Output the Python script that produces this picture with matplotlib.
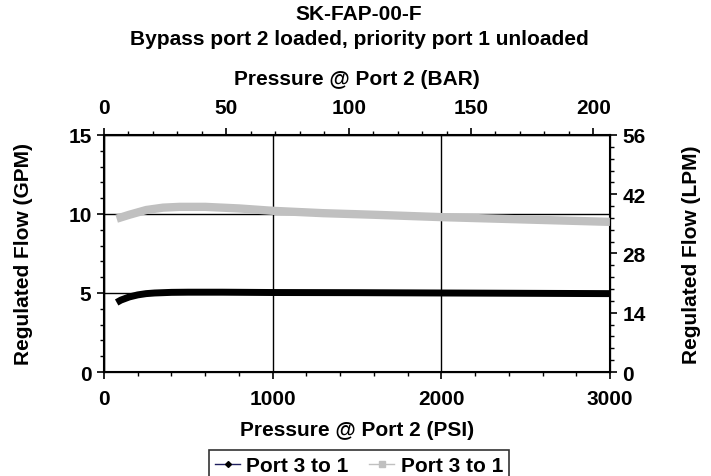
import matplotlib
matplotlib.use('Agg')
from matplotlib import pyplot as plt
from matplotlib.lines import Line2D
from matplotlib.ticker import MultipleLocator

plt.rcParams['font.family'] = ['Liberation Sans', 'DejaVu Sans']
plt.rcParams['font.weight'] = 'bold'
plt.rcParams['axes.labelweight'] = 'bold'
plt.rcParams['font.size'] = 15

# readings (psi, gpm)
psi_black = [75, 100, 150, 200, 250, 300, 400, 500, 700, 1000, 1500, 2000, 2500, 3000]
gpm_black = [4.4, 4.55, 4.75, 4.88, 4.96, 5.0, 5.04, 5.05, 5.05, 5.03, 5.02, 5.0, 4.98, 4.96]

psi_gray = [75, 150, 250, 350, 450, 600, 800, 1000, 1300, 1600, 2000, 2500, 3000]
gpm_gray = [9.7, 9.95, 10.25, 10.4, 10.45, 10.45, 10.35, 10.2, 10.05, 9.95, 9.8, 9.65, 9.5]

legend_labels = ['Port 3 to 1', 'Port 3 to 1']
psi_per_bar = 14.5038

fig = plt.figure(figsize=(7.11, 4.77), dpi=100)
ax = fig.add_axes([0.1463, 0.218, 0.7117, 0.497])

ax.plot(psi_gray, gpm_gray, color='#c0c0c0', lw=6, solid_capstyle='butt', zorder=3)
ax.plot(psi_black, gpm_black, color='black', lw=5, solid_capstyle='butt', zorder=4)

ax.set_xlim(0, 3000)
ax.set_ylim(0, 15)
ax.xaxis.set_major_locator(MultipleLocator(1000))
ax.xaxis.set_minor_locator(MultipleLocator(200))
ax.yaxis.set_major_locator(MultipleLocator(5))
ax.yaxis.set_minor_locator(MultipleLocator(1))
ax.grid(True, which='major', color='black', lw=1)
ax.tick_params(which='major', direction='out', length=5, width=1.2, pad=4)
ax.tick_params(axis='x', which='major', pad=7)
ax.tick_params(which='minor', direction='out', length=3, width=1)
ax.set_xlabel('Pressure @ Port 2 (PSI)', labelpad=9)
ax.set_ylabel('Regulated Flow (GPM)', labelpad=25)
for s in ax.spines.values():
    s.set_linewidth(1.5)

# top axis in bar
ax_top = ax.twiny()
ax_top.set_xlim(0, 3000 / psi_per_bar)
ax_top.xaxis.set_major_locator(MultipleLocator(50))
ax_top.xaxis.set_minor_locator(MultipleLocator(10))
ax_top.tick_params(which='major', direction='out', length=5, width=1.2, pad=8)
ax_top.tick_params(which='minor', direction='out', length=3, width=1)
ax_top.set_xlabel('Pressure @ Port 2 (BAR)', labelpad=10)

# right axis in lpm
ax_right = ax.twinx()
ax_right.set_ylim(0, 56)
ax_right.yaxis.set_major_locator(MultipleLocator(14))
ax_right.yaxis.set_minor_locator(MultipleLocator(2.8))
ax_right.tick_params(which='major', direction='out', length=5, width=1.2, pad=4)
ax_right.tick_params(which='minor', direction='out', length=3, width=1)
ax_right.set_ylabel('Regulated Flow (LPM)', labelpad=26)

fig.text(0.505, 0.97, 'SK-FAP-00-F', ha='center', va='center', fontsize=15, fontweight='bold')
fig.text(0.505, 0.918, 'Bypass port 2 loaded, priority port 1 unloaded', ha='center', va='center',
         fontsize=15, fontweight='bold')

handles = [Line2D([], [], color='#1f1f5f', lw=1, marker='D', markersize=3, markerfacecolor='black', markeredgecolor='black'),
           Line2D([], [], color='#c0c0c0', lw=1, marker='s', markersize=4)]
leg = fig.legend(handles, legend_labels, loc='upper center', bbox_to_anchor=(0.505, 0.054), ncol=2,
                 frameon=True, fancybox=False, edgecolor='black', handlelength=1.2, handletextpad=0.3,
                 columnspacing=1.0, borderpad=0.3, borderaxespad=0)
leg.get_frame().set_linewidth(1.2)

fig.savefig('out.png', dpi=100)
